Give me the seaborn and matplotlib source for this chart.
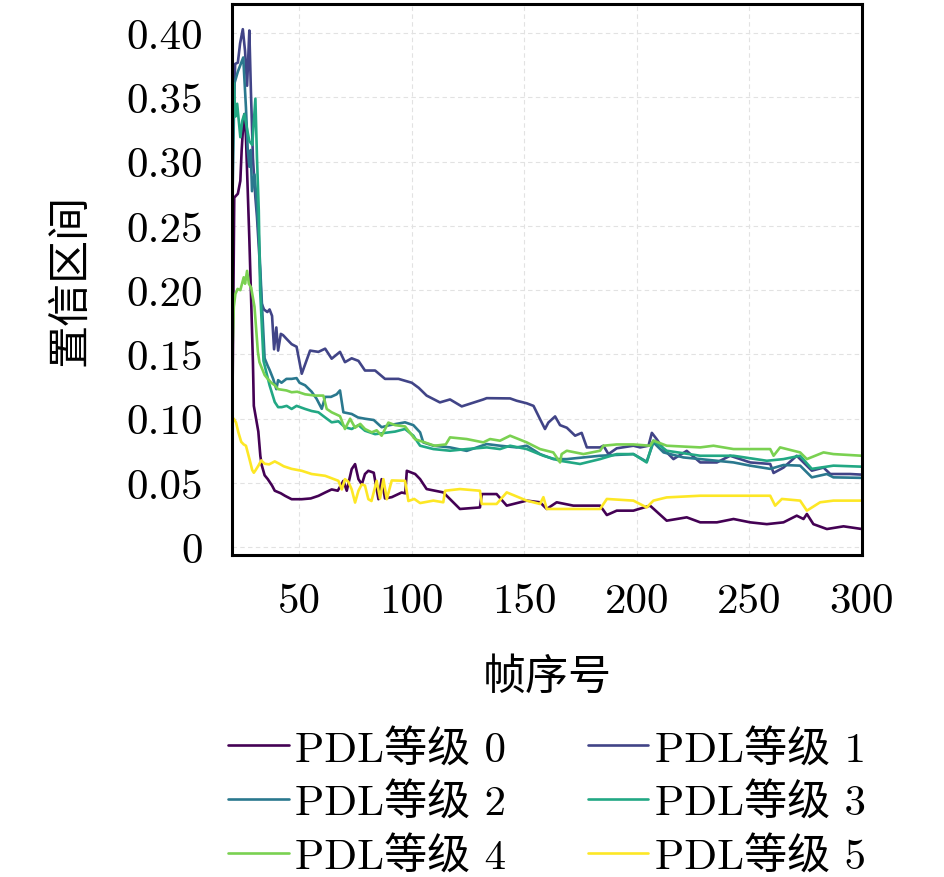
import numpy as np
import pandas as pd
import matplotlib
matplotlib.use("Agg")
import matplotlib.pyplot as plt
import seaborn as sns

# ---------------- data ----------------
levels = ["PDL等级 0", "PDL等级 1", "PDL等级 2", "PDL等级 3", "PDL等级 4", "PDL等级 5"]

x0 = [20, 21, 22.6, 23.7, 24.3, 25, 25.5, 26.2, 27, 27.7, 28.5, 29.3, 29.7, 30.7, 31.7, 32.6, 33.2, 34.5,
      35.9, 37.8, 39, 41.7, 43.6, 46.5, 51, 55, 58.4, 61.4, 64.3, 67, 69.5, 71, 73.2, 74.7, 76.2, 77.7,
      79.1, 80.6, 83, 85.1, 86.5, 88, 91, 95.4, 97, 97.7, 101.4, 103.6, 106.5, 113.9, 121.3, 130.2, 131,
      137.6, 142.1, 151, 156.9, 159.9, 164.3, 171.7, 183.6, 186.6, 191, 198.4, 205.8, 213.2, 222.1,
      228.1, 235.5, 242.9, 250.3, 257.7, 265.1, 271, 274, 275.5, 278.4, 284.4, 291.8, 300]
y0 = [0.072, 0.272, 0.275, 0.285, 0.309, 0.329, 0.337, 0.319, 0.277, 0.24, 0.193, 0.144, 0.11, 0.100,
      0.090, 0.071, 0.064, 0.056, 0.053, 0.048, 0.044, 0.042, 0.040, 0.0374, 0.0374, 0.038, 0.040, 0.0426,
      0.045, 0.044, 0.0517, 0.044, 0.0608, 0.0647, 0.053, 0.049, 0.057, 0.0595, 0.058, 0.0374, 0.053,
      0.038, 0.039, 0.0426, 0.042, 0.0595, 0.057, 0.053, 0.0453, 0.0427, 0.0298, 0.031, 0.0414, 0.0414,
      0.0324, 0.0363, 0.035, 0.0298, 0.035, 0.0324, 0.0324, 0.0251, 0.0285, 0.0285, 0.0324, 0.0207,
      0.0233, 0.0194, 0.0194, 0.022, 0.0194, 0.018, 0.0194, 0.0246, 0.022, 0.0259, 0.018, 0.0142,
      0.0163, 0.0142]

x1 = [20, 21.4, 22.6, 23.6, 24.8, 25.8, 26.7, 27.2, 27.7, 28.4, 29.3, 30.4, 31.1, 32.2, 33.1, 34.2, 35.7,
      36.7, 37.8, 38.7, 39.7, 40.5, 41.7, 42.7, 44.3, 46.5, 48.7, 51, 54.7, 58.4, 61.4, 64.3, 68, 70.2,
      73.2, 76.2, 79.1, 83.6, 88, 94, 99.9, 103, 106.5, 112.4, 116.9, 122.1, 131.7, 133.2, 143.6, 146.5,
      151, 154, 156.9, 159.1, 160.6, 163.6, 165.8, 168.8, 172.5, 175.4, 177.7, 183.6, 185.1, 187.3, 191,
      198.4, 201.4, 205.1, 206.6, 208.8, 211.8, 216.2, 222.1, 228.1, 235.5, 241.4, 250.3, 259.2, 260.7,
      265.1, 271, 274, 277.7, 282.9, 285.9, 294.7, 300]
y1 = [0.30, 0.376, 0.377, 0.392, 0.403, 0.386, 0.359, 0.38, 0.402, 0.355, 0.303, 0.272, 0.257, 0.225,
      0.19, 0.185, 0.183, 0.185, 0.18, 0.154, 0.171, 0.153, 0.166, 0.165, 0.162, 0.158, 0.156, 0.135,
      0.153, 0.152, 0.1545, 0.1467, 0.152, 0.144, 0.147, 0.145, 0.1375, 0.1375, 0.131, 0.131, 0.128,
      0.124, 0.118, 0.1127, 0.115, 0.1096, 0.115, 0.116, 0.1158, 0.114, 0.112, 0.110, 0.0997, 0.092,
      0.097, 0.1018, 0.095, 0.093, 0.0868, 0.089, 0.0777, 0.0777, 0.079, 0.0725, 0.077, 0.079, 0.0777,
      0.079, 0.089, 0.084, 0.0764, 0.0686, 0.075, 0.066, 0.066, 0.0712, 0.066, 0.0648, 0.0578, 0.062,
      0.0712, 0.066, 0.0596, 0.062, 0.057, 0.057, 0.0565]

x2 = [20, 21.1, 22.6, 25, 26.2, 27, 27.7, 28.3, 28.9, 30, 30.7, 31.8, 33, 34.5, 35.9, 36.7, 38.3, 39.7,
      40.5, 42, 44.2, 46.5, 48.7, 50, 52.5, 55.4, 57.6, 59.9, 61.4, 64, 66.5, 68, 69.5, 73.2, 76, 79.1,
      83, 86.5, 90, 96.9, 100.6, 103.6, 105, 109.5, 116.9, 124.3, 133.2, 139.1, 146.5, 151, 156.9, 162.8,
      168.8, 183.6, 198.4, 204.3, 207.3, 211.8, 220.6, 228.1, 242.9, 250.3, 259.2, 265.1, 272.5, 277.7,
      284.4, 287.3, 300]
y2 = [0.25, 0.361, 0.37, 0.381, 0.342, 0.309, 0.296, 0.309, 0.277, 0.29, 0.275, 0.246, 0.2, 0.147,
      0.141, 0.138, 0.131, 0.123, 0.13, 0.128, 0.131, 0.131, 0.1316, 0.128, 0.126, 0.121, 0.1155, 0.1077,
      0.117, 0.117, 0.119, 0.122, 0.105, 0.1037, 0.101, 0.100, 0.099, 0.0934, 0.095, 0.0972, 0.095,
      0.0894, 0.0816, 0.079, 0.0777, 0.075, 0.0803, 0.079, 0.0777, 0.079, 0.0725, 0.0686, 0.0686, 0.0712,
      0.0725, 0.0666, 0.0816, 0.0738, 0.0699, 0.0686, 0.066, 0.0635, 0.061, 0.064, 0.0635, 0.0544, 0.057,
      0.0544, 0.054]

x3 = [20, 20.8, 21.5, 22.3, 23.7, 24.6, 25.5, 26.2, 27.7, 29, 30.4, 31.1, 31.9, 32.5, 34, 36.7, 39, 40.5,
      42.1, 44.3, 46.5, 48.7, 52.5, 55.4, 58.4, 61.4, 64.3, 67.3, 70.2, 73.2, 76.2, 79.1, 83.6, 88, 92.5,
      96.9, 100.6, 103.6, 109.5, 116.9, 124.3, 133.2, 139.1, 143.6, 151, 158.4, 165.8, 174.7, 183.6, 191,
      198.4, 204.3, 207.3, 213.2, 228.1, 242.9, 257.7, 265.1, 272.5, 277.7, 287.3, 300]
y3 = [0.27, 0.361, 0.335, 0.345, 0.319, 0.332, 0.337, 0.33, 0.316, 0.313, 0.349, 0.303, 0.262, 0.2,
      0.145, 0.126, 0.113, 0.109, 0.109, 0.110, 0.1076, 0.110, 0.1076, 0.106, 0.105, 0.101, 0.0972,
      0.098, 0.0934, 0.092, 0.095, 0.0907, 0.088, 0.089, 0.090, 0.092, 0.0868, 0.079, 0.0764, 0.0751,
      0.0764, 0.0777, 0.0764, 0.079, 0.0764, 0.0712, 0.0673, 0.0648, 0.0686, 0.0725, 0.0725, 0.066, 0.083,
      0.0751, 0.0712, 0.0712, 0.0673, 0.0686, 0.0712, 0.061, 0.0635, 0.0627]

x4 = [20, 20.8, 21.5, 22.5, 23.7, 25.2, 25.8, 26.7, 27.5, 28.5, 30, 31.5, 32.2, 34.5, 35.9, 37.5, 39,
      40.5, 44.2, 46.5, 49, 52.5, 56.9, 60.6, 62.1, 64.3, 68, 70.2, 72.5, 74.7, 77, 79.1, 82.1, 84.3,
      86.5, 89.5, 92.5, 96.9, 101.4, 105, 110, 115, 116.9, 124.3, 131.7, 134.7, 139.1, 143.6, 151, 156.9,
      162.8, 165.8, 166.5, 168.8, 176.2, 183.6, 185.1, 191, 198.4, 205.8, 207.3, 213.2, 228.1, 234,
      242.9, 259.2, 260.7, 263.6, 272.5, 275.5, 282.9, 287.3, 300]
y4 = [0.14, 0.187, 0.197, 0.201, 0.2, 0.21, 0.205, 0.215, 0.205, 0.202, 0.187, 0.152, 0.144, 0.134,
      0.131, 0.128, 0.126, 0.123, 0.122, 0.1206, 0.121, 0.119, 0.118, 0.118, 0.1076, 0.105, 0.102, 0.092,
      0.1, 0.093, 0.096, 0.092, 0.0894, 0.091, 0.0868, 0.097, 0.095, 0.094, 0.084, 0.082, 0.079, 0.080,
      0.0855, 0.0842, 0.0816, 0.0842, 0.0829, 0.0868, 0.0816, 0.0764, 0.0738, 0.066, 0.0725, 0.0751,
      0.0725, 0.0751, 0.079, 0.080, 0.080, 0.079, 0.083, 0.079, 0.0777, 0.079, 0.0764, 0.0764, 0.0712,
      0.0777, 0.0738, 0.0686, 0.0738, 0.0725, 0.0712]

x5 = [20, 20.8, 21.8, 22.8, 24.1, 25.2, 26.2, 27.7, 29, 29.7, 30.5, 31.8, 33, 34.5, 36.5, 39, 41, 43,
      46.5, 51, 55.4, 61.4, 67.3, 68.8, 70.2, 71.7, 73.2, 74.7, 76.2, 77.7, 79.1, 80.6, 82, 84.3, 85.8,
      87.3, 88.8, 91, 96.9, 98.4, 101, 103.6, 109.5, 113.9, 114.7, 121.3, 130.2, 131, 137.6, 142.1, 151,
      156.9, 158.4, 159.9, 165.8, 173.2, 183.6, 186.6, 198.4, 204.3, 207.3, 213.2, 228.1, 242.9, 259.2,
      261.4, 264.4, 272.5, 275.5, 281.4, 287.3, 300]
y5 = [0.1, 0.1, 0.097, 0.0896, 0.082, 0.080, 0.079, 0.069, 0.060, 0.058, 0.060, 0.0637, 0.0676, 0.065,
      0.0645, 0.0668, 0.065, 0.063, 0.061, 0.0595, 0.057, 0.0556, 0.0517, 0.045, 0.053, 0.051, 0.045,
      0.0348, 0.044, 0.049, 0.048, 0.0374, 0.036, 0.0517, 0.038, 0.053, 0.0374, 0.052, 0.0517, 0.036,
      0.0376, 0.0344, 0.0363, 0.035, 0.044, 0.0453, 0.044, 0.0337, 0.0337, 0.0427, 0.0363, 0.0337, 0.039,
      0.0298, 0.0298, 0.0298, 0.0298, 0.0376, 0.0363, 0.031, 0.0363, 0.0388, 0.0401, 0.0401, 0.0401,
      0.0324, 0.0376, 0.0363, 0.0285, 0.0350, 0.0363, 0.0363]

xticks = [50, 100, 150, 200, 250, 300]
yticks = [0, 0.05, 0.10, 0.15, 0.20, 0.25, 0.30, 0.35, 0.40]
ytick_labels = ["0", "0.05", "0.10", "0.15", "0.20", "0.25", "0.30", "0.35", "0.40"]
xlabel = "帧序号"
ylabel = "置信区间"

# ---------------- build long table ----------------
xs = [x0, x1, x2, x3, x4, x5]
ys = [y0, y1, y2, y3, y4, y5]
frames = []
for lev, xx, yy in zip(levels, xs, ys):
    frames.append(pd.DataFrame({"frame": xx, "ci": yy, "level": lev}))
df = pd.concat(frames, ignore_index=True)

# ---------------- style ----------------
sns.set_theme(style="white")
plt.rcParams["font.family"] = ["cmr10", "Noto Sans CJK SC", "DejaVu Sans"]
plt.rcParams["axes.formatter.use_mathtext"] = True
plt.rcParams["axes.unicode_minus"] = False
plt.rcParams["text.color"] = "black"
plt.rcParams["axes.labelcolor"] = "black"
plt.rcParams["xtick.color"] = "black"
plt.rcParams["ytick.color"] = "black"

FS = 31
palette = [matplotlib.colormaps["viridis"](v) for v in np.linspace(0, 1, 6)]

fig = plt.figure(figsize=(9.45, 8.78), dpi=100)
ax = fig.add_axes([232 / 945, 1 - 556 / 878, 630 / 945, 551 / 878])

sns.lineplot(data=df, x="frame", y="ci", hue="level", hue_order=levels, palette=palette,
             estimator=None, sort=False, units="level", linewidth=1.9, legend=False, ax=ax)

ax.set_xlim(20, 300)
ax.set_ylim(-0.006, 0.4226)
ax.set_xticks(xticks)
ax.set_xticklabels([str(t) for t in xticks])
ax.set_yticks(yticks)
ax.set_yticklabels(ytick_labels)

ax.grid(True, color="#e2e2e2", linestyle=(0, (4, 3)), linewidth=0.8)
for s in ax.spines.values():
    s.set_visible(True)
    s.set_color("black")
    s.set_linewidth(2.2)
ax.tick_params(axis="both", direction="in", length=8, width=1.8, labelsize=FS,
               colors="black", labelcolor="black")
ax.tick_params(axis="y", pad=21)
ax.tick_params(axis="x", pad=20)
ax.tick_params(top=False, right=False)

ax.set_xlabel(xlabel, fontsize=FS, color="black")
ax.set_ylabel(ylabel, fontsize=FS, color="black")
ax.xaxis.set_label_coords(0.5, -0.185)
ax.yaxis.set_label_coords(-0.225, 0.5)

lines = ax.get_lines()[:6]
order = [0, 2, 4, 1, 3, 5]  # row-major fill like the reference
leg = fig.legend([lines[i] for i in order], [levels[i] for i in order], loc="upper center",
                 bbox_to_anchor=(547 / 945, 1 - 712 / 878), ncol=2, frameon=False, fontsize=FS,
                 handlelength=1.4, handletextpad=0.15, columnspacing=1.9, labelspacing=0.32,
                 borderaxespad=0, labelcolor="black")

fig.savefig("out.png", dpi=100)
